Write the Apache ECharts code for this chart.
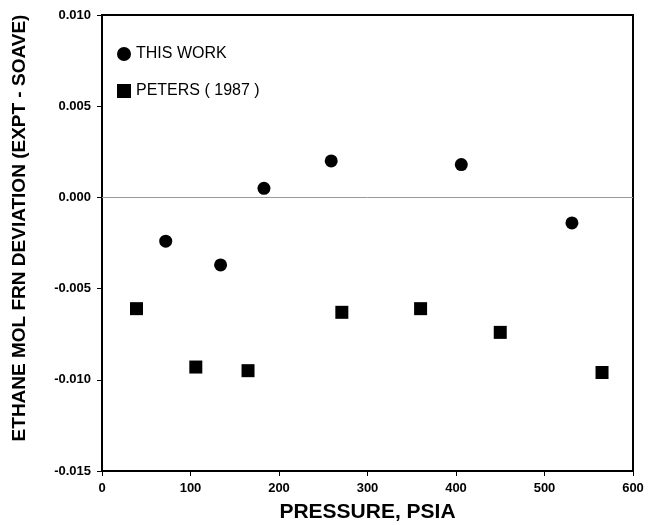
<!DOCTYPE html>
<html><head><meta charset="utf-8">
<script src="https://cdn.jsdelivr.net/npm/echarts@6/dist/echarts.min.js"></script>
<style>html,body{margin:0;padding:0;background:#fff}#c{width:650px;height:525px}</style>
</head><body><div id="c"></div>
<script>
const thisWorkX = [72, 134, 183, 259, 406, 531];
const thisWorkY = [-0.0024, -0.0037, 0.0005, 0.0020, 0.0018, -0.0014];
const petersX = [39, 106, 165, 271, 360, 450, 565];
const petersY = [-0.0061, -0.0093, -0.0095, -0.0063, -0.0061, -0.0074, -0.0096];
const xTicks = [0, 100, 200, 300, 400, 500, 600];
const yTicks = [-0.015, -0.010, -0.005, 0.000, 0.005, 0.010];
const seriesNames = ['THIS WORK', 'PETERS ( 1987 )'];
const xTitle = 'PRESSURE, PSIA';
const yTitle = 'ETHANE MOL FRN DEVIATION (EXPT - SOAVE)';

const chart = echarts.init(document.getElementById('c'));
const tickFont = {fontFamily: 'Liberation Sans', fontWeight: 'bold', fontSize: 13, color: '#000'};
chart.setOption({
  animation: false,
  backgroundColor: '#fff',
  grid: {left: 102, right: 17, top: 15, bottom: 54, containLabel: false, outerBoundsMode: 'none',
    show: true, borderColor: '#000', borderWidth: 2},
  legend: {
    orient: 'vertical', left: 112, top: 41, itemGap: 21, itemWidth: 14, itemHeight: 14,
    textStyle: {fontFamily: 'Liberation Sans Narrow, Liberation Sans', fontSize: 16, color: '#000'},
    data: [{name: seriesNames[0], icon: 'circle'}, {name: seriesNames[1], icon: 'rect'}]
  },
  graphic: [{
    type: 'text', x: 20, y: 228, rotation: Math.PI / 2,
    style: {text: yTitle, fontFamily: 'Liberation Sans', fontWeight: 'bold', fontSize: 19,
      fill: '#000', textAlign: 'center', verticalAlign: 'middle', textVerticalAlign: 'middle'}
  }],
  xAxis: {
    type: 'value', min: xTicks[0], max: xTicks[xTicks.length - 1], interval: 100,
    name: xTitle, nameLocation: 'middle', nameGap: 31,
    nameTextStyle: {fontFamily: 'Liberation Sans', fontWeight: 'bold', fontSize: 21, color: '#000'},
    axisLine: {show: true, onZero: false, lineStyle: {color: '#000', width: 2}},
    axisTick: {show: true, length: 5, lineStyle: {color: '#000'}},
    axisLabel: Object.assign({margin: 11}, tickFont),
    splitLine: {show: false}
  },
  yAxis: {
    type: 'value', min: yTicks[0], max: yTicks[yTicks.length - 1], interval: 0.005,
    axisLine: {show: true, onZero: false, lineStyle: {color: '#000', width: 2}},
    axisTick: {show: true, length: 5, lineStyle: {color: '#000'}},
    axisLabel: Object.assign({margin: 11, formatter: v => v.toFixed(3)}, tickFont),
    splitLine: {show: false}
  },
  series: [
    {
      name: seriesNames[0], type: 'scatter', symbol: 'circle', symbolSize: 13,
      itemStyle: {color: '#000', opacity: 1},
      data: thisWorkX.map((x, i) => [x, thisWorkY[i]]),
      markLine: {silent: true, symbol: 'none', label: {show: false},
        lineStyle: {color: '#999', width: 1, type: 'solid', opacity: 1}, data: [{yAxis: 0}]}
    },
    {
      name: seriesNames[1], type: 'scatter', symbol: 'rect', symbolSize: 13,
      itemStyle: {color: '#000', opacity: 1},
      data: petersX.map((x, i) => [x, petersY[i]])
    }
  ]
});
</script></body></html>
